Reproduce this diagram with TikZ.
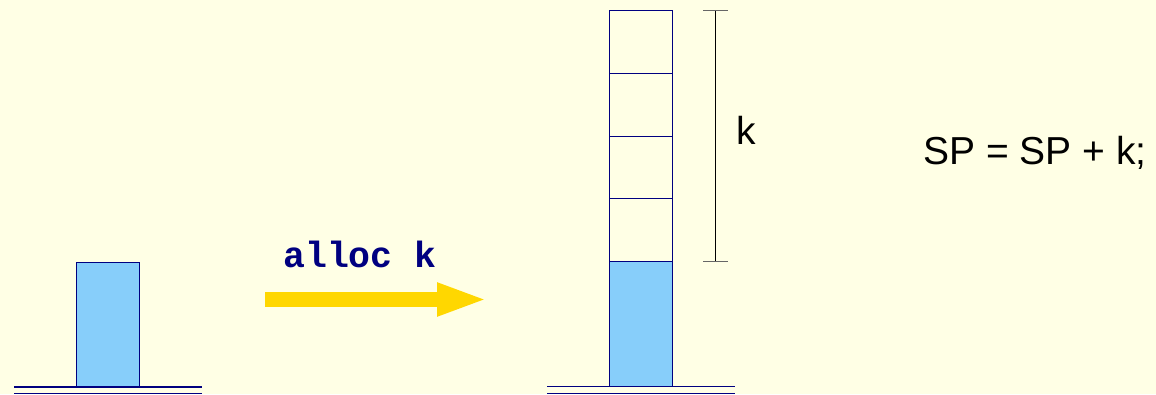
\documentclass[tikz,border=0pt]{standalone}
\usepackage{fontspec}
\setmainfont{Liberation Sans}
\newfontfamily\codefont{Liberation Mono}
\usetikzlibrary{arrows.meta, positioning, calc}
\definecolor{bgyellow}{HTML}{FFFFE5}
\definecolor{stackblue}{HTML}{87CEFA}
\definecolor{edgeblue}{HTML}{000080}
\definecolor{arrowgold}{HTML}{FFD700}

\begin{document}
\begin{tikzpicture}[x=1pt, y=1pt,
  % ── Style definitions ──
  blk/.style={
    rectangle, draw=edgeblue, line width=0.9pt,
    minimum width=62.5pt, minimum height=125pt,
    inner sep=0pt, outer sep=0pt, fill=stackblue
  },
  cell/.style={blk, fill=none, minimum height=62.85pt},
  base/.style ={draw=edgeblue, line width=1.4pt},
  push/.style ={arrowgold, line width=15pt,
                -{Triangle[length=51pt, width=30pt]}},
  brk/.style  ={black, line width=0.8pt},
  tick/.style ={black!60, line width=1.2pt},
  lbl/.style  ={font=\fontsize{39}{44}\selectfont, inner sep=0pt},
  code/.style ={font=\codefont\bfseries\fontsize{36.5}{40}\selectfont,
                text=edgeblue, inner sep=0pt}
]
% ─────────── Background ──────────────────────────────────────
\fill[bgyellow] (0,0) rectangle (1156,394);
\useasboundingbox (0,0) rectangle (1156,394);

% ─────────── Stack before ────────────────────────────────────
\node[blk, anchor=south] (lblk) at (108,7) {};
\draw[base] ($(lblk.south)+(-94,0)$) -- ($(lblk.south)+(94,0)$);
\draw[base] ($(lblk.south)+(-94,-6.6)$) -- ($(lblk.south)+(94,-6.6)$);

% ─────────── Allocation arrow ────────────────────────────────
\coordinate (afrom) at (265,94.5);
\coordinate (ato)   at (488,94.5);
\draw[push] (afrom) -- (ato);
\node[code, anchor=base west] (op) at (283,127) {alloc k};

% ─────────── Stack after ─────────────────────────────────────
\node[blk, anchor=south] (rblk) at (641,7.3) {};
\node[cell, above=0pt of rblk] (c1) {};
\node[cell, above=0pt of c1]   (c2) {};
\node[cell, above=0pt of c2]   (c3) {};
\node[cell, above=0pt of c3]   (c4) {};
\draw[base] ($(rblk.south)+(-94,0)$) -- ($(rblk.south)+(94,0)$);
\draw[base] ($(rblk.south)+(-94,-6.6)$) -- ($(rblk.south)+(94,-6.6)$);

% ─────────── Size bracket ────────────────────────────────────
\coordinate (btop) at ($(c4.north east)+(43.5,0)$);
\coordinate (bbot) at ($(rblk.north east)+(43.5,0)$);
\draw[brk]  (btop) -- (bbot);
\draw[tick] ($(btop)+(-12.5,0)$) -- ($(btop)+(12.5,0)$);
\draw[tick] ($(bbot)+(-12.5,0)$) -- ($(bbot)+(12.5,0)$);
\node[lbl, anchor=west] (ksize) at ($(btop)!0.5!(bbot)+(21,6)$) {k};

% ─────────── Update rule ─────────────────────────────────────
\node[lbl, anchor=base west] (rule) at (923,229) {SP = SP + k;};
\end{tikzpicture}
\end{document}
